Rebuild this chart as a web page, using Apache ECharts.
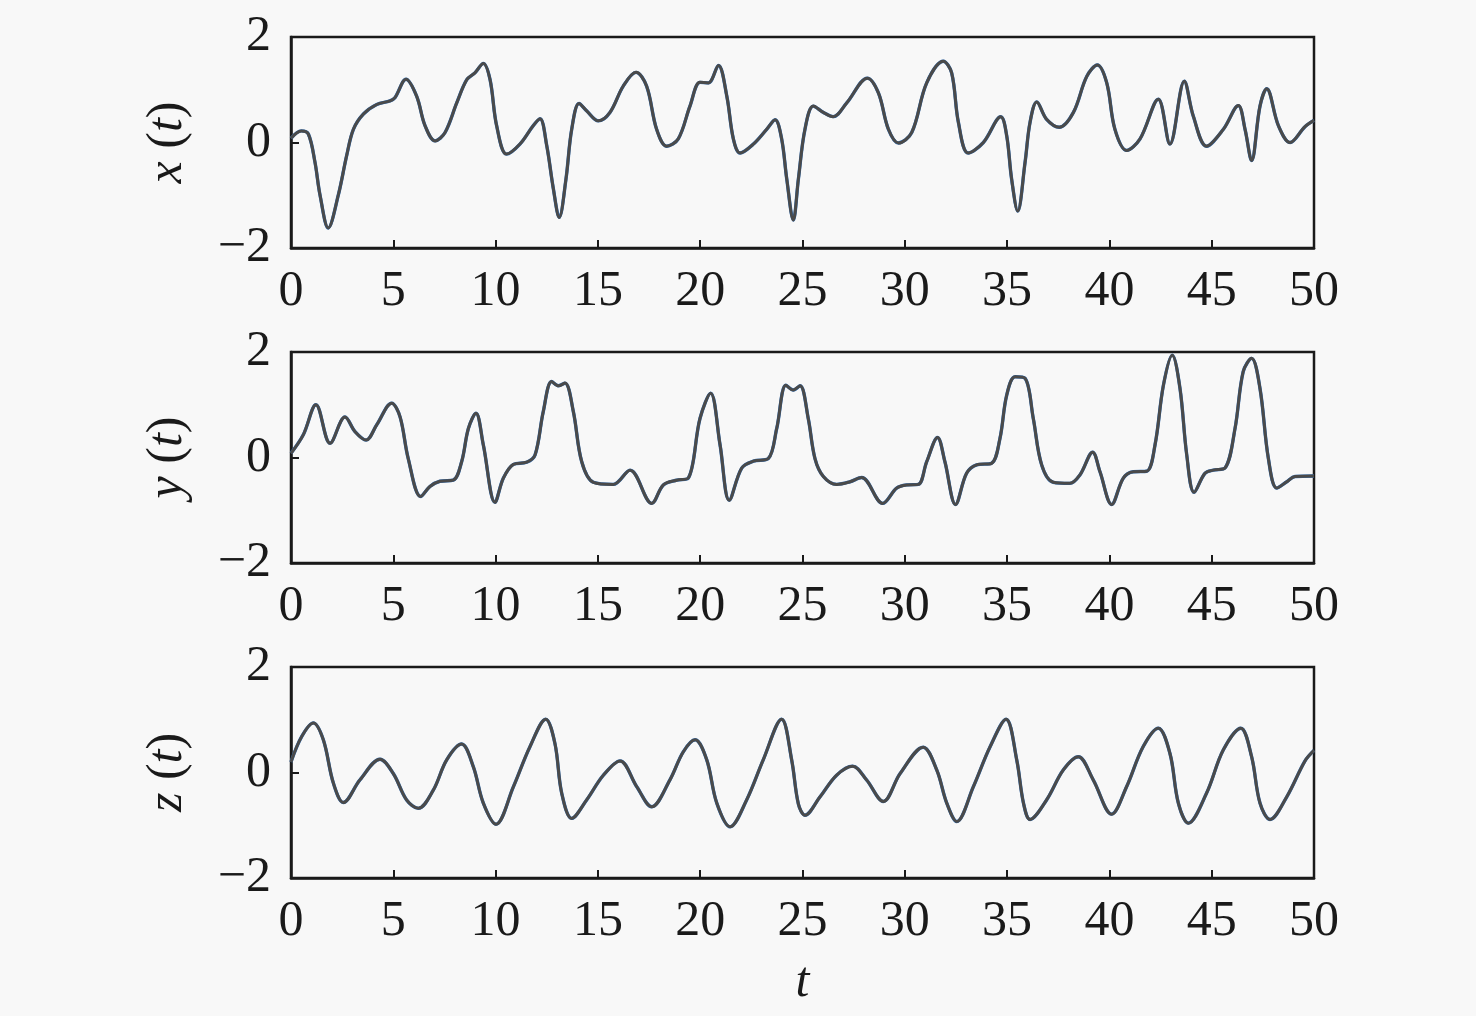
<!DOCTYPE html>
<html><head><meta charset="utf-8">
<script src="https://cdn.jsdelivr.net/npm/echarts@6/dist/echarts.min.js"></script>
<style>html,body{margin:0;padding:0;background:#f8f8f8;}#c{width:1476px;height:1016px;}</style>
</head><body><div id="c"></div>
<script>
// x(t) samples [t, value]
var xSeries = [[0,0.08],[0.5,0.22],[0.85,0.16],[1.17,-0.37],[1.42,-1.0],[1.82,-1.62],[2.31,-1.0],[2.72,-0.25],[3.05,0.25],[3.54,0.54],[4.19,0.72],[4.84,0.79],[5.08,0.85],[5.62,1.2],[6.14,0.88],[6.55,0.32],[7.04,0.03],[7.53,0.19],[8.1,0.75],[8.59,1.19],[8.99,1.32],[9.4,1.5],[9.73,1.19],[10.05,0.32],[10.54,-0.22],[11.19,-0.03],[11.84,0.32],[12.17,0.45],[12.5,-0.06],[12.82,-0.87],[13.11,-1.42],[13.44,-0.69],[13.72,0.25],[14.08,0.74],[14.45,0.6],[15.02,0.41],[15.59,0.57],[16.24,1.07],[16.86,1.33],[17.38,1.07],[17.87,0.25],[18.36,-0.07],[18.93,0.07],[19.5,0.69],[19.99,1.14],[20.4,1.13],[20.89,1.46],[21.3,0.88],[21.62,0.07],[21.95,-0.2],[22.6,-0.03],[23.25,0.25],[23.66,0.43],[23.98,0.07],[24.23,-0.69],[24.55,-1.47],[24.8,-0.69],[25.12,0.25],[25.53,0.69],[26.02,0.57],[26.5,0.49],[27.16,0.75],[28.17,1.22],[28.71,0.94],[29.2,0.25],[29.69,-0.01],[30.34,0.19],[31.07,1.13],[31.88,1.54],[32.29,1.32],[32.62,0.38],[33.1,-0.2],[33.84,0.0],[34.69,0.49],[34.98,0.13],[35.22,-0.69],[35.52,-1.3],[35.88,-0.37],[36.12,0.38],[36.45,0.77],[36.93,0.44],[37.55,0.29],[38.24,0.57],[38.89,1.25],[39.41,1.47],[39.87,1.13],[40.27,0.25],[40.84,-0.15],[41.5,0.07],[42.39,0.82],[42.96,-0.03],[43.66,1.16],[44.1,0.5],[44.75,-0.07],[45.57,0.25],[46.3,0.7],[46.63,0.25],[46.95,-0.34],[47.36,0.69],[47.69,1.02],[48.26,0.32],[48.83,0.0],[49.56,0.3],[50,0.42]];
// y(t) samples [t, value]
var ySeries = [[0,0.08],[0.6,0.43],[1.22,1.0],[1.91,0.27],[2.64,0.77],[3.13,0.49],[3.67,0.33],[4.19,0.62],[4.92,1.03],[5.33,0.77],[5.73,-0.02],[6.34,-0.74],[6.79,-0.55],[7.28,-0.45],[7.93,-0.43],[8.34,-0.08],[8.67,0.55],[9.04,0.84],[9.4,0.24],[9.97,-0.85],[10.38,-0.39],[10.87,-0.13],[11.52,-0.09],[11.93,0.05],[12.33,0.87],[12.74,1.44],[13.07,1.36],[13.39,1.41],[13.8,0.87],[14.21,-0.08],[14.78,-0.47],[15.75,-0.51],[16.57,-0.24],[17.63,-0.87],[18.2,-0.52],[18.85,-0.43],[19.42,-0.39],[19.99,0.74],[20.51,1.22],[20.97,0.24],[21.42,-0.81],[22.03,-0.2],[22.6,-0.07],[23.33,-0.02],[23.74,0.55],[24.19,1.37],[24.55,1.28],[24.88,1.36],[25.28,0.74],[25.61,-0.02],[26.02,-0.36],[26.67,-0.51],[27.32,-0.46],[27.89,-0.38],[28.92,-0.87],[29.6,-0.58],[30.09,-0.52],[30.66,-0.51],[31.07,-0.08],[31.6,0.38],[31.96,-0.08],[32.48,-0.89],[33.02,-0.3],[33.51,-0.14],[34.24,-0.11],[34.65,0.36],[34.98,1.18],[35.39,1.53],[35.88,1.5],[36.28,0.74],[36.69,-0.14],[37.26,-0.47],[38.07,-0.49],[38.56,-0.33],[39.18,0.1],[39.54,-0.27],[40.11,-0.89],[40.68,-0.39],[41.17,-0.27],[41.82,-0.26],[42.23,0.24],[42.64,1.37],[43.07,1.94],[43.45,1.31],[43.78,0.05],[44.14,-0.66],[44.67,-0.3],[45.08,-0.24],[45.65,-0.2],[46.14,0.55],[46.54,1.63],[46.95,1.88],[47.36,1.31],[47.77,-0.02],[48.18,-0.58],[48.67,-0.46],[49.07,-0.36],[50,-0.35]];
// z(t) samples [t, value]
var zSeries = [[0,0.2],[0.52,0.68],[1.09,0.94],[1.58,0.62],[2.07,-0.2],[2.56,-0.57],[3.37,-0.14],[4.35,0.25],[5.0,-0.02],[5.65,-0.52],[6.22,-0.68],[6.96,-0.33],[7.61,0.24],[8.34,0.54],[8.91,0.11],[9.4,-0.58],[10.02,-0.98],[10.87,-0.27],[11.68,0.49],[12.45,1.01],[12.9,0.55],[13.23,-0.39],[13.72,-0.87],[14.45,-0.52],[15.27,-0.05],[16.08,0.22],[16.9,-0.27],[17.63,-0.65],[18.52,-0.14],[19.17,0.39],[19.75,0.62],[20.32,0.24],[20.81,-0.58],[21.46,-1.03],[22.27,-0.52],[23.08,0.24],[23.98,1.01],[24.47,0.24],[24.8,-0.6],[25.12,-0.81],[25.86,-0.46],[26.67,-0.05],[27.45,0.12],[28.13,-0.14],[28.95,-0.55],[29.77,-0.02],[30.9,0.48],[31.56,0.05],[32.05,-0.58],[32.54,-0.93],[33.35,-0.27],[34.17,0.49],[34.95,1.01],[35.47,0.24],[35.8,-0.58],[36.12,-0.89],[36.93,-0.52],[37.75,0.05],[38.48,0.3],[39.21,-0.14],[40.11,-0.79],[40.84,-0.27],[41.65,0.49],[42.39,0.84],[42.96,0.36],[43.37,-0.58],[43.86,-0.96],[44.75,-0.39],[45.57,0.43],[46.42,0.84],[46.95,0.3],[47.36,-0.58],[47.85,-0.89],[48.67,-0.46],[49.56,0.22],[50,0.42]];
var xTicks = {min: 0, max: 50, interval: 5};
var yTicks = {min: -2, max: 2, interval: 2};
var yNames = ['x', 'y', 'z'];

var FONT = 'Liberation Serif';
var INK = '#1a1a1a';
var tops = [37, 352, 667];
var H = 211;
var grids = [], xAxes = [], yAxes = [], series = [];
var datas = [xSeries, ySeries, zSeries];
for (var i = 0; i < 3; i++) {
  grids.push({left: 291, top: tops[i], width: 1023, height: H, show: true,
    borderColor: INK, borderWidth: 2.5, backgroundColor: 'transparent'});
  xAxes.push({type: 'value', gridIndex: i, min: xTicks.min, max: xTicks.max, interval: xTicks.interval,
    axisLine: {show: true, onZero: false, lineStyle: {color: INK, width: 2.5}},
    axisTick: {show: true, inside: true, length: 8, lineStyle: {color: INK, width: 2}},
    axisLabel: {fontFamily: FONT, fontSize: 50, color: INK, margin: 19},
    splitLine: {show: false},
    name: i === 2 ? 't' : '', nameLocation: 'middle', nameGap: 80,
    nameTextStyle: {fontFamily: FONT, fontSize: 50, fontStyle: 'italic', color: INK}});
  yAxes.push({type: 'value', gridIndex: i, min: yTicks.min, max: yTicks.max, interval: yTicks.interval,
    axisLine: {show: true, onZero: false, lineStyle: {color: INK, width: 2.5}},
    axisTick: {show: true, inside: true, length: 8, lineStyle: {color: INK, width: 2}},
    axisLabel: {fontFamily: FONT, fontSize: 50, color: INK, margin: 20,
      formatter: function (v) { return String(v).replace('-', '\u2212'); }},
    splitLine: {show: false},
    name: '{i|' + yNames[i] + '} ({i|t})', nameLocation: 'middle', nameGap: 98,
    nameTextStyle: {fontFamily: FONT, fontSize: 50, color: INK,
      rich: {i: {fontFamily: FONT, fontSize: 50, fontStyle: 'italic', color: INK}}}});
  series.push({type: 'line', xAxisIndex: i, yAxisIndex: i, data: datas[i], smooth: 0.35,
    showSymbol: false, lineStyle: {color: '#2f6db5', width: 3.4}, z: 2});
  series.push({type: 'line', xAxisIndex: i, yAxisIndex: i, data: datas[i], smooth: 0.35,
    showSymbol: false, lineStyle: {color: '#4a4a4a', width: 3}, z: 3});
}
var chart = echarts.init(document.getElementById('c'), null, {renderer: 'canvas'});
chart.setOption({animation: false, backgroundColor: '#f8f8f8', grid: grids, xAxis: xAxes, yAxis: yAxes, series: series});
</script></body></html>
